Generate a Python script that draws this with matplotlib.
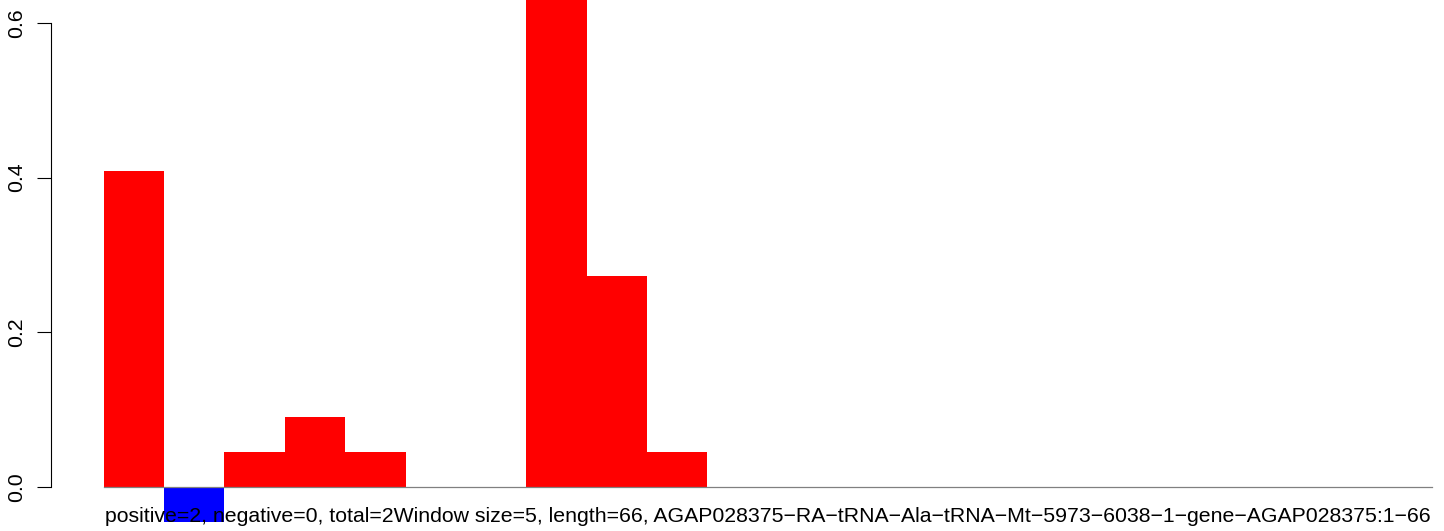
import matplotlib
matplotlib.use("Agg")
import matplotlib.pyplot as plt

values = [0.409, -0.0455, 0.0455, 0.0909, 0.0455, 0.0, 0.0, 0.68, 0.2727, 0.0455,
          0, 0, 0, 0, 0, 0, 0, 0, 0, 0, 0, 0]
colors = ["red" if v > 0 else "blue" for v in values]
yticks = [0.0, 0.2, 0.4, 0.6]
ytick_labels = ["0.0", "0.2", "0.4", "0.6"]
caption = ("positive=2, negative=0, total=2Window size=5, length=66, "
           "AGAP028375\u2212RA\u2212tRNA\u2212Ala\u2212tRNA\u2212Mt\u22125973\u22126038\u22121\u2212gene\u2212AGAP028375:1\u221266")

plt.rcParams['font.family'] = ['Liberation Sans', 'DejaVu Sans']

W, H = 1444, 531
fig = plt.figure(figsize=(W / 100, H / 100), dpi=100)
ax = fig.add_axes([0, 0, 1, 1])

x0_px, bw_px = 103.6, 60.38
y0_px, scale_px = 487.0, 773.5
ax.set_xlim(-x0_px / bw_px, (W - x0_px) / bw_px)
ax.set_ylim(-(H - y0_px) / scale_px, y0_px / scale_px)

xs = [i for i in range(len(values))]
ax.bar(xs, values, width=1.0, align='edge', color=colors, linewidth=0, zorder=1)
ax.plot([0, len(values)], [0, 0], color='#808080', linewidth=0.9, zorder=2)

for s in ['top', 'right', 'bottom']:
    ax.spines[s].set_visible(False)
axis_x = (51 - x0_px) / bw_px
ax.spines['left'].set_position(('data', axis_x))
ax.spines['left'].set_bounds(0, 0.6)
ax.spines['left'].set_linewidth(0.8)
ax.set_yticks(yticks)
ax.set_yticklabels(ytick_labels, rotation=90, va='center', fontsize=15.3)
ax.tick_params(axis='y', direction='out', length=10, width=0.8, pad=8)
ax.set_xticks([])
ax.patch.set_alpha(0)

fig.text(767.8 / W, 1 - 522 / H, caption, ha='center', va='baseline', fontsize=15.3, zorder=5)

fig.savefig("out.png", dpi=100)
